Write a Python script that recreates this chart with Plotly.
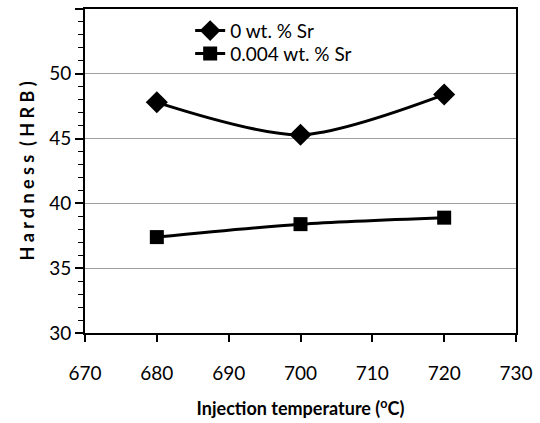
import plotly.graph_objects as go

temps = [680, 700, 720]
sr0 = [47.8, 45.3, 48.4]
sr004 = [37.4, 38.4, 38.9]
series_names = ["0 wt. % Sr", "0.004 wt. % Sr"]

FONT = "Lato"

fig = go.Figure()
fig.add_trace(go.Scatter(
    x=temps, y=sr0, name=series_names[0], mode="lines+markers",
    line=dict(color="black", width=3, shape="spline", smoothing=0.8),
    marker=dict(symbol="diamond", size=17, color="black"),
    legend="legend",
))
fig.add_trace(go.Scatter(
    x=temps, y=sr004, name=series_names[1], mode="lines+markers",
    line=dict(color="black", width=3, shape="spline", smoothing=0.8),
    marker=dict(symbol="square", size=14, color="black"),
    legend="legend2",
))

leg_common = dict(xanchor="left", yanchor="middle", bgcolor="rgba(0,0,0,0)",
                  font=dict(size=19, family=FONT), itemwidth=30)

fig.update_layout(
    width=540, height=423,
    margin=dict(l=85, r=23, t=7, b=90),
    paper_bgcolor="white", plot_bgcolor="white",
    font=dict(family=FONT, color="black", size=18),
    showlegend=True,
    legend=dict(x=0.244, y=0.933, **leg_common),
    legend2=dict(x=0.244, y=0.862, **leg_common),
    xaxis=dict(
        range=[670, 730], dtick=10, tick0=670,
        showgrid=False, zeroline=False,
        showline=True, linecolor="black", linewidth=2, mirror=True,
        ticks="outside", ticklen=7, tickwidth=1.5, tickcolor="black",
        ticklabelstandoff=15,
        tickfont=dict(size=19),
        title=dict(text="<b>Injection temperature (<sup>o</sup>C)</b>",
                   font=dict(size=18), standoff=20),
    ),
    yaxis=dict(
        range=[30, 55], dtick=5, tick0=30,
        showgrid=True, gridcolor="#a0a0a0", gridwidth=1,
        zeroline=False,
        showline=True, linecolor="black", linewidth=2, mirror=True,
        ticks="outside", ticklen=8, tickwidth=1.5, tickcolor="black",
        tickfont=dict(size=19),
        minor=dict(dtick=1, ticks="outside", ticklen=5, tickwidth=1, tickcolor="black", showgrid=False),
        title=dict(text="<b>H a r d n e s s  ( H R B )</b>", font=dict(size=18), standoff=10),
    ),
)

fig.write_html("out.html")
